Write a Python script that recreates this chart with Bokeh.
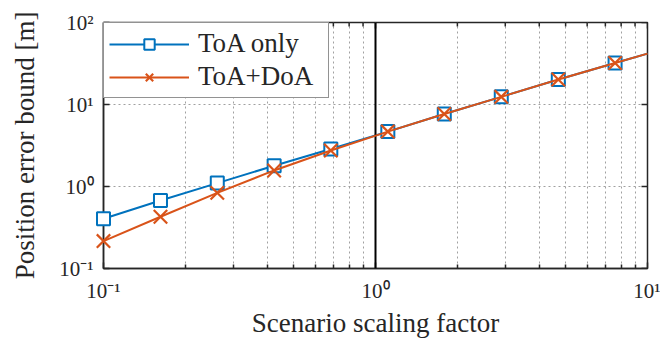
import math
from bokeh.plotting import figure
from bokeh.models import (Span, Legend, LegendItem, CustomJSTickFormatter,
                          Range1d, ColumnDataSource, FixedTicker)
from bokeh.embed import file_html
from bokeh.resources import INLINE

# ---- data ----
scale = [0.1, 0.162, 0.262, 0.424, 0.685, 1.11, 1.79, 2.90, 4.70, 7.60, 10.0]
toa_only = [0.405, 0.675, 1.10, 1.79, 2.86, 4.67, 7.66, 12.4, 20.2, 32.1, 41.7]
toa_doa = [0.216, 0.428, 0.836, 1.57, 2.75, 4.67, 7.66, 12.4, 20.2, 32.1, 41.7]
n_markers = 10  # markers on the first 10 samples
x_ticks = [0.1, 1, 10]
y_ticks = [0.1, 1, 10, 100]
vline_at = 1.0

x_minor = [k * t for t in x_ticks[:-1] for k in range(2, 10)]

BLUE = "#0072BD"
ORANGE = "#D95319"
AX = "#262626"
FONT = "Liberation Serif"

line_src_a = ColumnDataSource(dict(x=scale, y=toa_only))
line_src_b = ColumnDataSource(dict(x=scale, y=toa_doa))
mk_src_a = ColumnDataSource(dict(x=scale[:n_markers], y=toa_only[:n_markers]))
mk_src_b = ColumnDataSource(dict(x=scale[:n_markers], y=toa_doa[:n_markers]))

p = figure(width=660, height=340, x_axis_type="log", y_axis_type="log",
           x_range=Range1d(x_ticks[0], x_ticks[-1]), y_range=Range1d(y_ticks[0], y_ticks[-1]),
           output_backend="svg", toolbar_location=None,
           min_border_left=103, min_border_right=13, min_border_top=22, min_border_bottom=71)

fmt = CustomJSTickFormatter(code="""
const sup = {'-':'\u207b','0':'\u2070','1':'\u00b9','2':'\u00b2','3':'\u00b3'};
const e = Math.round(Math.log10(tick));
return '10' + String(e).split('').map(c => sup[c]).join('');
""")

p.background_fill_color = "white"
p.border_fill_color = "white"
p.outline_line_color = AX
p.outline_line_width = 1.5

xt = FixedTicker(ticks=x_ticks, minor_ticks=x_minor)
yt = FixedTicker(ticks=y_ticks, minor_ticks=[])

# grids
p.xgrid.ticker = xt
p.ygrid.ticker = yt
for g in (p.xgrid[0], p.ygrid[0]):
    g.grid_line_color = "#a0a0a0"
    g.grid_line_dash = "2 3"
    g.grid_line_width = 1
p.xgrid.minor_grid_line_color = "#a0a0a0"
p.xgrid.minor_grid_line_dash = "2 3"
p.xgrid.minor_grid_line_width = 1
p.ygrid.minor_grid_line_color = None

# axes
xa = p.xaxis[0]
ya = p.yaxis[0]
xa.ticker = xt
ya.ticker = yt
xa.axis_label = "Scenario scaling factor"
ya.axis_label = "Position error bound [m]"
for ax in (xa, ya):
    ax.formatter = fmt
    ax.axis_line_color = AX
    ax.axis_line_width = 1.5
    ax.major_tick_line_color = AX
    ax.major_tick_line_width = 1.5
    ax.major_tick_in = 6
    ax.major_tick_out = 0
    ax.minor_tick_line_color = AX
    ax.minor_tick_line_width = 1.5
    ax.minor_tick_in = 4
    ax.minor_tick_out = 0
    ax.major_label_text_font = FONT
    ax.major_label_text_font_size = "21px"
    ax.major_label_text_color = AX
    ax.axis_label_text_font = FONT
    ax.axis_label_text_font_style = "normal"
    ax.axis_label_text_font_size = "27px"
    ax.axis_label_text_color = AX
    ax.major_label_standoff = 10
xa.axis_label_standoff = 2
ya.axis_label_standoff = 16

# ticks on the top and right edges (inside), as clipped dash markers
p.scatter(x=x_ticks, y=[y_ticks[-1]] * len(x_ticks), marker="dash", angle=math.pi / 2,
          size=12, line_color=AX, line_width=1.5)
p.scatter(x=x_minor, y=[y_ticks[-1]] * len(x_minor), marker="dash", angle=math.pi / 2,
          size=8, line_color=AX, line_width=1.5)
p.scatter(x=[x_ticks[-1]] * len(y_ticks), y=y_ticks, marker="dash",
          size=12, line_color=AX, line_width=1.5)

# vertical line at x = 1
p.add_layout(Span(location=vline_at, dimension="height", line_color="black", line_width=2))

# series
la = p.line("x", "y", source=line_src_a, line_color=BLUE, line_width=2)
ma = p.scatter("x", "y", source=mk_src_a, marker="square", size=13,
               line_color=BLUE, line_width=2, fill_color="white", level="overlay")
lb = p.line("x", "y", source=line_src_b, line_color=ORANGE, line_width=2, level="overlay")
mb = p.scatter("x", "y", source=mk_src_b, marker="x", size=19,
               line_color=ORANGE, line_width=2.2, level="overlay")

legend = Legend(items=[LegendItem(label="ToA only", renderers=[la, ma]),
                       LegendItem(label="ToA+DoA", renderers=[lb, mb])],
                location="top_left")
legend.margin = 0
legend.padding = 5
legend.spacing = 2
legend.glyph_width = 80
legend.glyph_height = 26
legend.label_height = 26
legend.label_width = 125
legend.label_standoff = 9
legend.label_text_font = FONT
legend.label_text_font_size = "27px"
legend.label_text_color = AX
legend.border_line_color = AX
legend.border_line_width = 1.5
legend.background_fill_color = "white"
legend.background_fill_alpha = 1
p.add_layout(legend, "center")

open("out.html", "w").write(file_html(p, INLINE))
